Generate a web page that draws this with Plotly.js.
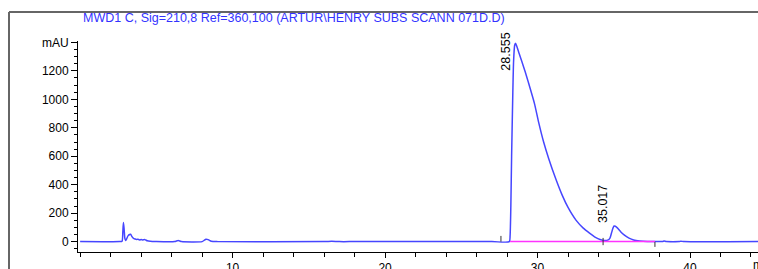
<!DOCTYPE html>
<html><head><meta charset="utf-8">
<script src="https://cdn.plot.ly/plotly-3.0.1.min.js"></script>
<style>html,body{margin:0;padding:0;background:#fff;}#chart{width:758px;height:269px;}</style>
</head><body><div id="chart"></div>
<script>
// Chromatogram signal (time in min, absorbance in mAU)
const signalTime = [0, 2.6, 2.75, 2.8, 2.84, 2.88, 2.93, 2.98, 3.05, 3.15, 3.25, 3.31, 3.4, 3.5, 3.6, 3.7, 3.77, 3.9, 4.0, 4.1, 4.25, 4.4, 4.6, 5.0,
  6.2, 6.43, 6.65, 8.0, 8.15, 8.25, 8.4, 8.6, 9.0, 16.0, 16.5, 17.0, 18.0, 27.0, 28.15,
  28.2, 28.25, 28.3, 28.38, 28.43, 28.5, 28.555, 28.65, 28.8, 28.96, 29.2, 29.4, 29.8, 30.07, 30.4, 30.74, 31.2, 31.63, 32.0, 32.52, 33.0, 33.41, 33.8, 34.1, 34.4, 34.6,
  34.75, 34.85, 34.95, 35.017, 35.1, 35.25, 35.45, 35.7, 36.0, 36.3, 36.7, 37.2, 37.7, 38.2, 38.3, 38.45, 39.3, 39.4, 39.6, 44.5];
const signalMAU = [0, 0, 3, 70, 134, 95, 25, 8, 20, 42, 50, 52, 35, 22, 18, 15, 17, 12, 14, 12, 14, 6, 2, 0,
  0, 8, 0, 0, 10, 17, 14, 3, 0, 0, 2, 0, 0, 0, 0,
  40, 250, 600, 1050, 1270, 1380, 1395, 1370, 1320, 1270, 1190, 1119, 970, 840, 700, 581, 440, 323, 240, 151, 95, 60, 30, 15, 8, 10,
  25, 60, 95, 110, 108, 95, 70, 45, 25, 12, 5, 1, 0, 1, 4, 0, 0, 3, 0, 0];
// Integration baseline
const baselineTime = [28.2, 37.7];
const baselineMAU = [0, 0];
// Integration event tick marks
const eventTime = [27.6, 34.3, 37.7];
const eventLow = [0, -25, -37];
const eventHigh = [40, 26, -2];
// Peak labels
const peakTime = [28.555, 35.017];
const peakMAU = [1395, 110];
const peakLabel = ['28.555', '35.017'];
// Axis ticks
const yTickVals = [0, 200, 400, 600, 800, 1000, 1200, 1400];
const yTickText = ['0', '200', '400', '600', '800', '1000', '1200', 'mAU'];
const xTickVals = [10, 20, 30, 40];
const titleText = 'MWD1 C, Sig=210,8 Ref=360,100 (ARTUR\\HENRY SUBS SCANN 071D.D)';

const FONT = 'Liberation Sans, Arial, sans-serif';
const evX = [], evY = [];
eventTime.forEach((t, i) => { evX.push(t, t, null); evY.push(eventLow[i], eventHigh[i], null); });

const traces = [
  {x: signalTime, y: signalMAU, type: 'scatter', mode: 'lines', line: {color: 'rgb(70,70,255)', width: 1.5, shape: 'spline', smoothing: 0.6}, hoverinfo: 'skip'},
  {x: baselineTime, y: baselineMAU, type: 'scatter', mode: 'lines', line: {color: '#ff33ff', width: 1.5}, hoverinfo: 'skip'},
  {x: evX, y: evY, type: 'scatter', mode: 'lines', line: {color: '#333', width: 1}, hoverinfo: 'skip'}
];

const shifts = [{xs: 0, ys: -9}, {xs: -2, ys: 22}];
const annotations = peakTime.map((t, i) => ({
  x: t, y: peakMAU[i], xref: 'x', yref: 'y', text: peakLabel[i], showarrow: false, textangle: -90,
  xanchor: 'right', yanchor: 'middle', xshift: shifts[i].xs, yshift: shifts[i].ys,
  font: {family: FONT, size: 12.5, color: '#000'}
}));
annotations.push({xref: 'paper', yref: 'paper', x: (751 - 78) / 680, y: -(265 - 252) / 211, text: 'min', showarrow: false,
  xanchor: 'left', yanchor: 'middle', font: {family: FONT, size: 12, color: '#000'}});

const layout = {
  width: 758, height: 269,
  margin: {l: 78, r: 0, t: 41, b: 17, pad: 0},
  paper_bgcolor: '#fff', plot_bgcolor: '#fff',
  showlegend: false,
  title: {text: titleText, xref: 'container', yref: 'container', x: 83 / 758, xanchor: 'left', y: 1 - 18 / 269, yanchor: 'middle',
    font: {family: FONT, size: 12.5, color: '#3333ff'}},
  xaxis: {range: [-0.14, 44.46], showgrid: false, zeroline: false, showline: true, linecolor: '#000', linewidth: 1,
    tickmode: 'array', tickvals: xTickVals, ticks: 'outside', ticklen: 5, tickcolor: '#000', tickwidth: 1,
    tickfont: {family: FONT, size: 12, color: '#000'},
    minor: {dtick: 2, tick0: 0, ticks: 'outside', ticklen: 4, tickcolor: '#000', showgrid: false}},
  yaxis: {range: [-73, 1410], showgrid: false, zeroline: false, showline: true, linecolor: '#000', linewidth: 1,
    tickmode: 'array', tickvals: yTickVals, ticktext: yTickText, ticks: 'outside', ticklen: 6, tickcolor: '#000', tickwidth: 1,
    tickfont: {family: FONT, size: 12, color: '#000'},
    minor: {dtick: 50, tick0: 0, ticks: 'outside', ticklen: 3, tickcolor: '#000', showgrid: false}},
  annotations: annotations,
  shapes: [
    {type: 'line', xref: 'paper', yref: 'paper', x0: (9 - 78) / 680, x1: 1.05, y0: 1 + 29 / 211, y1: 1 + 29 / 211, line: {color: '#666', width: 2}},
    {type: 'line', xref: 'paper', yref: 'paper', x0: (9 - 78) / 680, x1: (9 - 78) / 680, y0: 1 + 29 / 211, y1: -0.2, line: {color: '#666', width: 2}}
  ]
};
Plotly.newPlot('chart', traces, layout, {staticPlot: true, displayModeBar: false});
</script></body></html>
